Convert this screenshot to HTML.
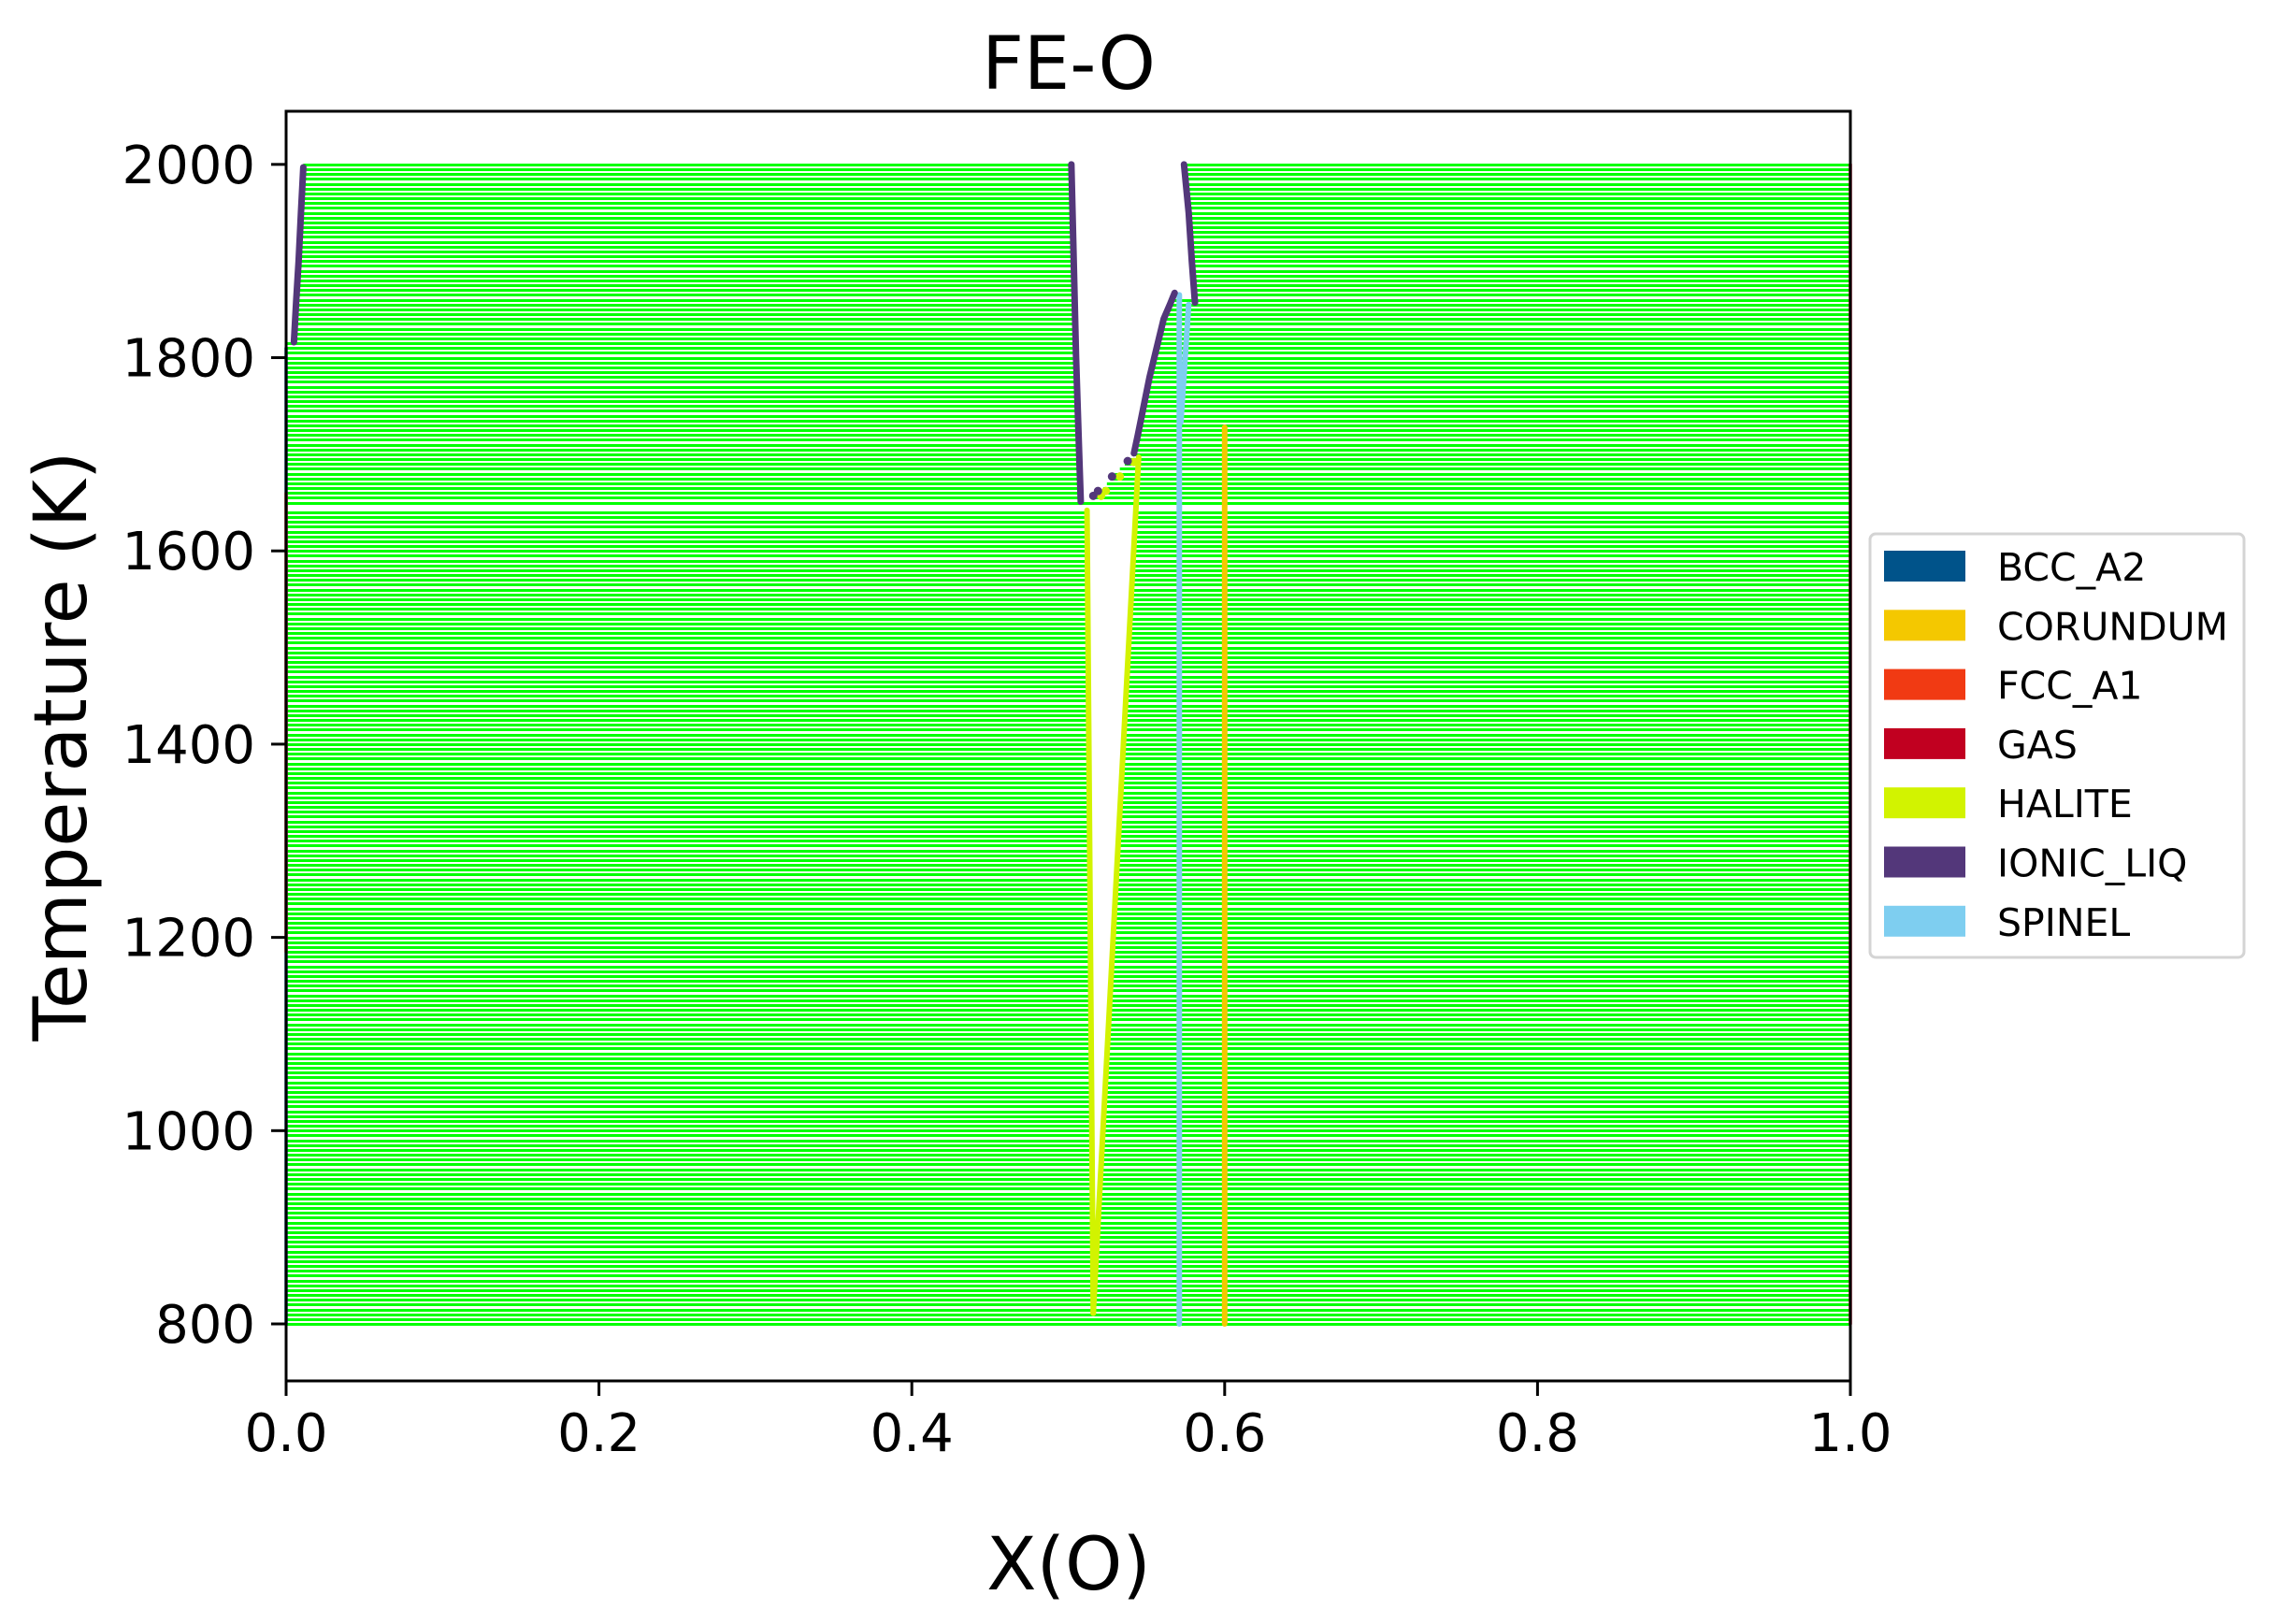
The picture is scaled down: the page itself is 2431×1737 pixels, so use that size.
<!DOCTYPE html>
<html><head><meta charset="utf-8"><style>
html,body{margin:0;padding:0;background:#fff;}
svg{display:block;font-family:"DejaVu Sans","Liberation Sans",sans-serif;}
</style></head><body>
<svg id="chart" width="2431" height="1737" viewBox="0 0 2431 1737" xmlns="http://www.w3.org/2000/svg">
<rect x="0" y="0" width="2431" height="1737" fill="#fff"/>
<text x="1143" y="95" font-size="78" text-anchor="middle">FE-O</text>
<g id="plot"></g>
<g id="axes"></g>
<text x="1143" y="1700" font-size="78" text-anchor="middle">X(O)</text>
<text x="0" y="0" font-size="78" text-anchor="middle" transform="translate(92,798) rotate(-90)">Temperature (K)</text>
<g id="legend"></g>
</svg>
<script>
const xTicks = [0.0, 0.2, 0.4, 0.6, 0.8, 1.0];
const xTickLabels = ["0.0", "0.2", "0.4", "0.6", "0.8", "1.0"];
const yTicks = [800, 1000, 1200, 1400, 1600, 1800, 2000];
const yTickLabels = ["800", "1000", "1200", "1400", "1600", "1800", "2000"];
const phases = ["BCC_A2", "CORUNDUM", "FCC_A1", "GAS", "HALITE", "IONIC_LIQ", "SPINEL"];
const phaseColors = ["#00538a", "#f4c800", "#f13a13", "#c10020", "#d2f300", "#53377a", "#7ecef0"];
// boundary curves [T, x]
const leftLiqCurve = [[1816, 0.005], [1860, 0.0065], [1900, 0.008], [1950, 0.0095], [1997, 0.011]];
const gapLeftCurve = [[1651, 0.508], [1700, 0.507], [1800, 0.505], [1900, 0.5035], [2000, 0.502]];
const gapRightCurve = [[1651, 0.512], [1660, 0.520], [1677, 0.528], [1693, 0.538], [1701, 0.542], [1720, 0.5445], [1740, 0.547], [1760, 0.5495], [1780, 0.552], [1800, 0.555], [1820, 0.558], [1840, 0.561], [1855, 0.565], [1862, 0.568], [1863, 0.580], [1900, 0.579], [1950, 0.577], [2000, 0.574]];
const middleLiqCurve = [[1701, 0.542], [1720, 0.5445], [1740, 0.547], [1760, 0.5495], [1780, 0.552], [1800, 0.555], [1820, 0.558], [1840, 0.561], [1855, 0.565], [1867, 0.568]];
const rightLiqCurve = [[1857, 0.581], [1900, 0.579], [1950, 0.577], [2000, 0.574]];
const liqDots = [[1657, 0.516], [1662, 0.519], [1677, 0.528], [1693, 0.538]];
const haliteDots = [[1657, 0.521], [1662, 0.524], [1677, 0.533], [1692, 0.542]];
const haliteLeft = [[811, 0.516], [1642, 0.512]];
const haliteRight = [[811, 0.516], [1697, 0.545]];
const spinelLeft = [[800, 0.571], [1865, 0.571]];
const spinelRight = [[1733, 0.572], [1855, 0.577]];
const corundumLine = [[800, 0.600], [1728, 0.600]];
const bccEdge = [[800, 0.0], [1810, 0.0]];
const fccEdge = [[1185, 0.0], [1660, 0.0]];
const gasEdge = [[800, 1.0], [2000, 1.0]];
const tieT0 = 800, tieT1 = 2000, tieStep = 5, skipT = [1645];

const L = 306, R = 1979, T = 119, B = 1477;
const xMin = 0, xMax = 1, yMin = 741, yMax = 2055;
const sx = v => L + (v - xMin) / (xMax - xMin) * (R - L);
const sy = v => B - (v - yMin) / (yMax - yMin) * (B - T);
const NS = "http://www.w3.org/2000/svg";
function mk(tag, attrs, parent) { const e = document.createElementNS(NS, tag); for (const k in attrs) e.setAttribute(k, attrs[k]); parent.appendChild(e); return e; }
function interp(curve, t) {
  if (t <= curve[0][0]) return curve[0][1];
  for (let i = 1; i < curve.length; i++) {
    if (t <= curve[i][0]) { const a = curve[i - 1], b = curve[i]; return a[1] + (b[1] - a[1]) * (t - a[0]) / (b[0] - a[0]); }
  }
  return curve[curve.length - 1][1];
}
const plot = document.getElementById('plot');
for (let t = tieT0; t <= tieT1; t += tieStep) {
  if (skipT.includes(t)) continue;
  const white = [];
  if (t >= 1816) white.push([0, interp(leftLiqCurve, t)]);
  if (t >= 1651) white.push([interp(gapLeftCurve, t), interp(gapRightCurve, t)]);
  if (t >= 811 && t <= 1642) white.push([interp(haliteLeft, t), interp(haliteRight, t)]);
  white.sort((a, b) => a[0] - b[0]);
  let cur = 0;
  const segs = [];
  for (const w of white) { if (w[0] > cur) segs.push([cur, w[0]]); cur = Math.max(cur, w[1]); }
  if (cur < 1) segs.push([cur, 1]);
  const yy = Math.round(sy(t));
  for (const s of segs) {
    const ln = mk('rect', {x: sx(s[0]), width: sx(s[1]) - sx(s[0]), y: yy - 1, height: 3, fill: '#00ff00'}, plot);
    
    
  }
}
function poly(curve, color, w, name) {
  const p = mk('polyline', {points: curve.map(c => sx(c[1]) + ',' + sy(c[0])).join(' '), fill: 'none', stroke: color, 'stroke-width': w, 'stroke-linecap': 'round', 'stroke-linejoin': 'round'}, plot);
  
  
}
poly(bccEdge, phaseColors[0], 3.5, 'bcc-a2-boundary');
poly(fccEdge, phaseColors[2], 3.5, 'fcc-a1-boundary');
poly(gasEdge, phaseColors[3], 3.5, 'gas-boundary');
poly(corundumLine, phaseColors[1], 6, 'corundum-boundary');
poly(haliteLeft, phaseColors[4], 6, 'halite-left-boundary');
poly(haliteRight, phaseColors[4], 6, 'halite-right-boundary');
poly(spinelLeft, phaseColors[6], 6, 'spinel-left-boundary');
poly(spinelRight, phaseColors[6], 6, 'spinel-right-boundary');
poly(leftLiqCurve, phaseColors[5], 7, 'ionic-liq-left-curve');
poly(gapLeftCurve, phaseColors[5], 7, 'ionic-liq-gap-left-curve');
poly(middleLiqCurve, phaseColors[5], 7, 'ionic-liq-middle-curve');
poly(rightLiqCurve, phaseColors[5], 7, 'ionic-liq-right-curve');
for (const d of haliteDots) {
  const c = mk('circle', {cx: sx(d[1]), cy: sy(d[0]), r: 4.5, fill: phaseColors[4]}, plot);
  
  
}
for (const d of liqDots) {
  const c = mk('circle', {cx: sx(d[1]), cy: sy(d[0]), r: 4.5, fill: phaseColors[5]}, plot);
  
  
}
const axes = document.getElementById('axes');
const fr = mk('rect', {x: L, y: T, width: R - L, height: B - T, fill: 'none', stroke: '#000', 'stroke-width': 3}, axes);


xTicks.forEach((v, i) => {
  const tk = mk('line', {x1: sx(v), x2: sx(v), y1: B, y2: B + 16, stroke: '#000', 'stroke-width': 3}, axes);
  
  
  const tx = mk('text', {x: sx(v), y: 1552, 'font-size': 56, 'text-anchor': 'middle'}, axes);
  tx.textContent = xTickLabels[i];
  
  
});
yTicks.forEach((v, i) => {
  const tk = mk('line', {x1: L - 16, x2: L, y1: sy(v), y2: sy(v), stroke: '#000', 'stroke-width': 3}, axes);
  
  
  const tx = mk('text', {x: 273, y: sy(v) + 20, 'font-size': 56, 'text-anchor': 'end'}, axes);
  tx.textContent = yTickLabels[i];
  
  
});
const lg = document.getElementById('legend');
const box = mk('rect', {x: 2000, y: 571, width: 400, height: 453, rx: 6, fill: '#fff', stroke: '#d4d4d4', 'stroke-width': 3}, lg);


phases.forEach((p, i) => {
  const y0 = 589 + i * 63.3;
  const g = mk('g', {}, lg);
  
  
  mk('rect', {x: 2015, y: y0, width: 87, height: 33, fill: phaseColors[i]}, g);
  const t = mk('text', {x: 2136, y: y0 + 32, 'font-size': 41}, g);
  t.textContent = p;
});
</script>
</body></html>
